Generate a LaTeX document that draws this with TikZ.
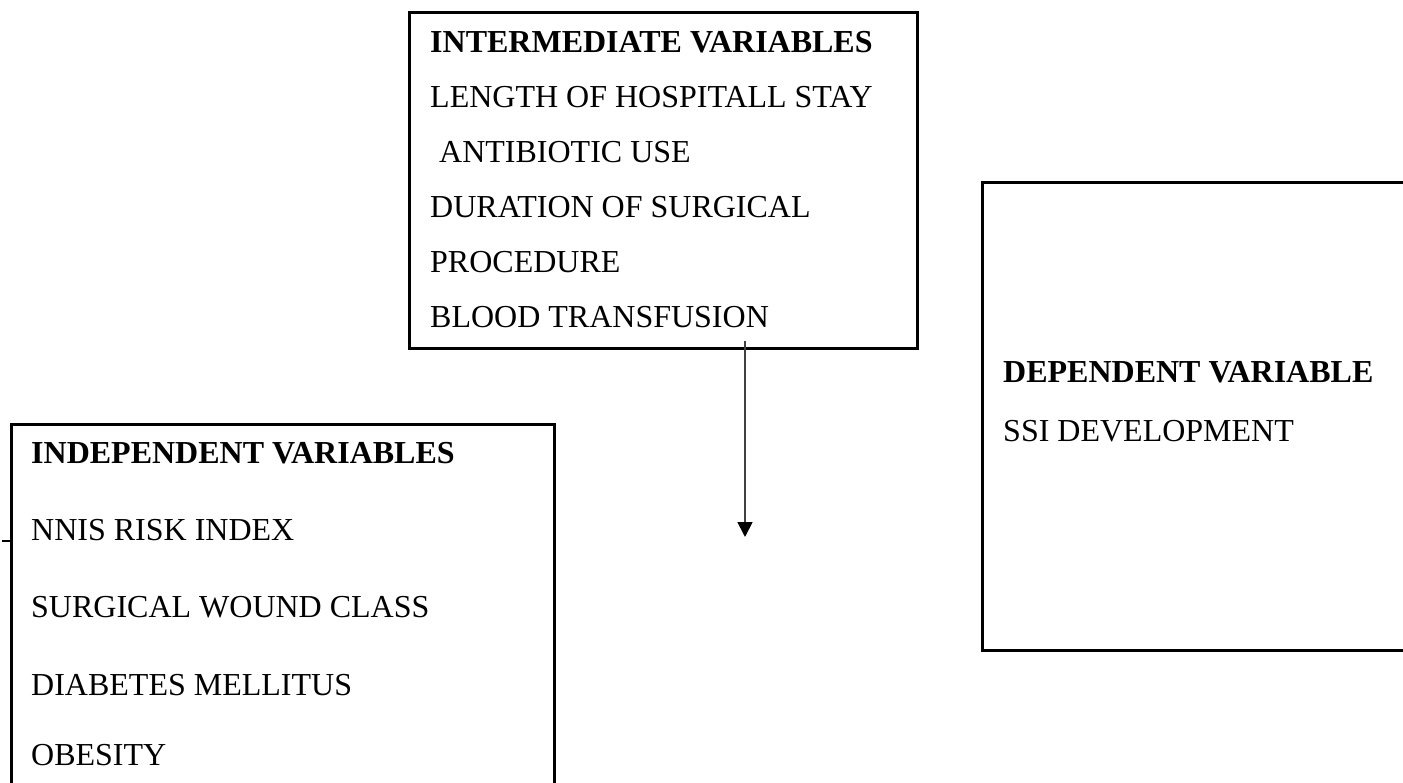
\documentclass[tikz,border=0pt]{standalone}
\usepackage{fontspec}
\setmainfont{Liberation Serif}
\usetikzlibrary{arrows.meta}
\begin{document}
\begin{tikzpicture}[x=1pt,y=-1pt,
  box/.style={draw, line width=2.6pt, inner sep=0pt, anchor=north west},
  txt/.style={anchor=base west, inner sep=0pt, font=\fontsize{32}{38}\selectfont},
  hd/.style={anchor=base west, inner sep=0pt, font=\fontsize{32}{38}\selectfont\bfseries},
  link/.style={line width=1.8pt, draw=black!75, -{Triangle[width=15pt,length=15pt,color=black]}}]
\useasboundingbox (0,0) rectangle (1403,783);
% boxes
\node[box, minimum width=508pt, minimum height=336pt] (inter) at (408,11) {};
\node[box, minimum width=543pt, minimum height=420pt] (indep) at (10,423) {};
\node[box, minimum width=470pt, minimum height=468pt] (dep) at (981,181) {};
% intermediate texts
\node[hd]  (i0) at (430,53)  {INTERMEDIATE VARIABLES};
\node[txt] (i1) at (430,108) {LENGTH OF HOSPITALL STAY};
\node[txt] (i2) at (439,163) {ANTIBIOTIC USE};
\node[txt] (i3) at (430,218) {DURATION OF SURGICAL};
\node[txt] (i4) at (430,273) {PROCEDURE};
\node[txt] (i5) at (430,328) {BLOOD TRANSFUSION};
% independent texts
\node[hd]  (n0) at (31,463) {INDEPENDENT VARIABLES};
\node[txt] (n1) at (31,540) {NNIS RISK INDEX};
\node[txt] (n2) at (31,617) {SURGICAL WOUND CLASS};
\node[txt] (n3) at (31,695) {DIABETES MELLITUS};
\node[txt] (n4) at (31,765) {OBESITY};
% dependent texts
\node[hd]  (d0) at (1003,383) {DEPENDENT VARIABLE};
\node[txt] (d1) at (1003,441) {SSI DEVELOPMENT};
% arrow
\coordinate (astart) at (745,341);
\coordinate (aend) at (745,537);
\draw[link] (astart) -- (aend);
% small tick at left edge
\coordinate (tickA) at (2,541);
\coordinate (tickB) at (10,541);
\draw[line width=1.5pt] (tickA) -- (tickB);
\end{tikzpicture}
\end{document}
